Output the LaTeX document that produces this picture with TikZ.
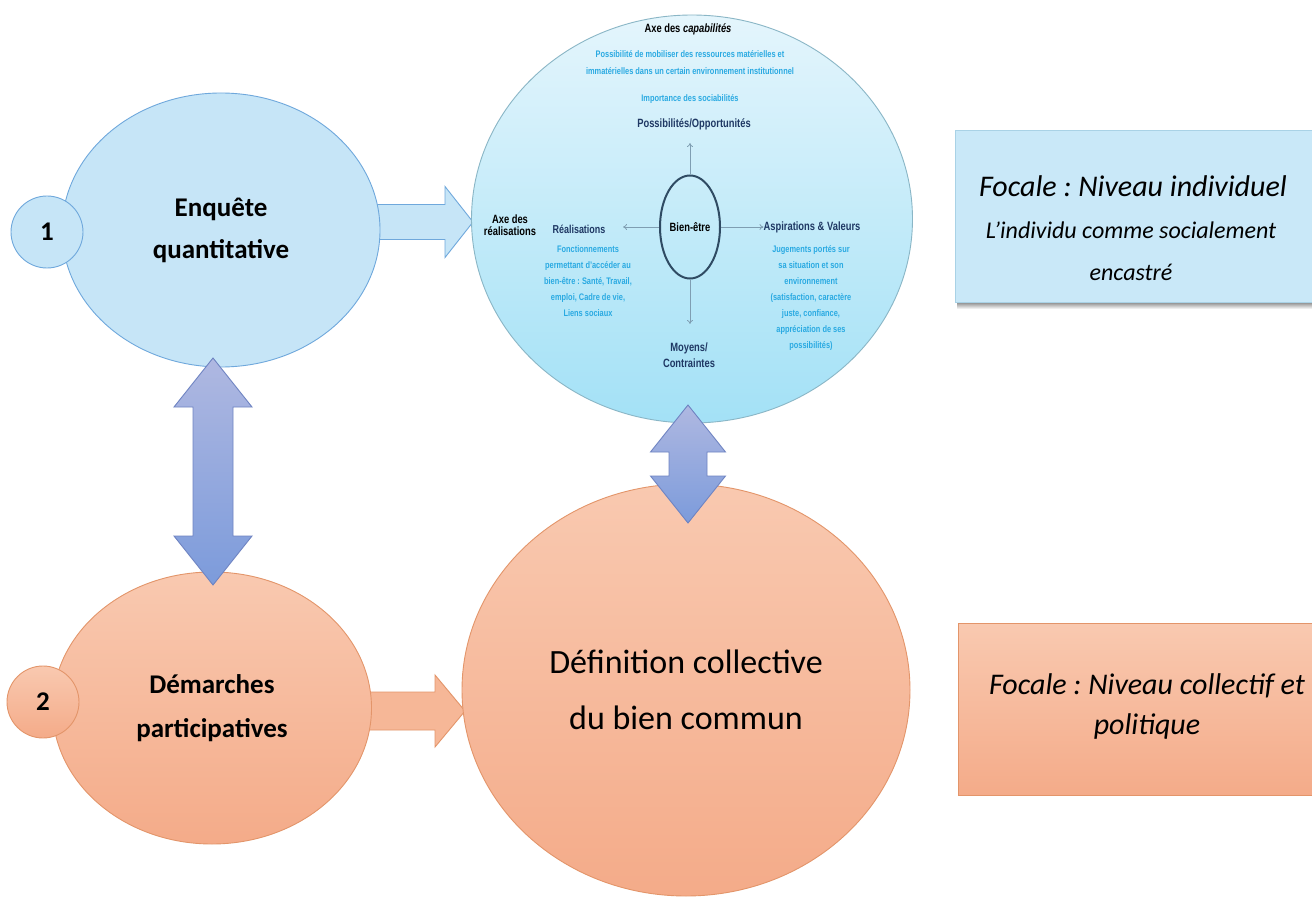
\documentclass[tikz,border=0pt]{standalone}
\usepackage{fontspec}
\setmainfont{Carlito}
\newfontfamily\narrowsans[FakeStretch=0.78]{Liberation Sans}
\usetikzlibrary{shapes.geometric,arrows.meta,calc}
\frenchspacing

\definecolor{enqfill}{HTML}{C6E5F7}
\definecolor{enqline}{HTML}{6FA8DC}
\definecolor{captop}{HTML}{E4F5FC}
\definecolor{capbot}{HTML}{A3E1F6}
\definecolor{capline}{HTML}{8AB6C6}
\definecolor{saltop}{HTML}{F9C9B0}
\definecolor{salbot}{HTML}{F4AB89}
\definecolor{salfill}{HTML}{F6B797}
\definecolor{salline}{HTML}{E3956A}
\definecolor{arrtop}{HTML}{AFB8E1}
\definecolor{arrbot}{HTML}{7C9BDB}
\definecolor{arrline}{HTML}{6F84C2}
\definecolor{navy}{HTML}{1F3864}
\definecolor{skyblue}{HTML}{2AAAE2}
\definecolor{focfill}{HTML}{C9E8F8}
\definecolor{focline}{HTML}{A9D2E6}
\definecolor{ringline}{HTML}{2F4B63}
\definecolor{smallarrow}{HTML}{7F9EB2}

% horizontal block arrow: start point, tip, half head width, half shaft width, head length, style
\newcommand\hblockarrow[6]{%
  \path[#6] let \p1=(#1), \p2=(#2) in
    (\x1,\y2+#4pt) -- (\x2-#5pt,\y2+#4pt) -- (\x2-#5pt,\y2+#3pt) -- (\x2,\y2)
    -- (\x2-#5pt,\y2-#3pt) -- (\x2-#5pt,\y2-#4pt) -- (\x1,\y2-#4pt) -- cycle;}

% vertical double block arrow: top tip, bottom tip, half head width, half shaft width, head length, style
\newcommand\vdblarrow[6]{%
  \path[#6] let \p1=(#1), \p2=(#2) in
    (\x1,\y1) -- (\x1+#3pt,\y1-#5pt) -- (\x1+#4pt,\y1-#5pt) -- (\x1+#4pt,\y2+#5pt)
    -- (\x1+#3pt,\y2+#5pt) -- (\x1,\y2) -- (\x1-#3pt,\y2+#5pt) -- (\x1-#4pt,\y2+#5pt)
    -- (\x1-#4pt,\y1-#5pt) -- (\x1-#3pt,\y1-#5pt) -- cycle;}

\begin{document}
\begin{tikzpicture}[x=1pt,y=-1pt,
  bubble/.style={ellipse, inner sep=0pt, line width=0.9pt, align=center},
  bluebubble/.style={bubble, fill=enqfill, draw=enqline},
  salbubble/.style={bubble, top color=saltop, bottom color=salbot, draw=salline},
  title/.style={font=\fontsize{27}{42}\selectfont\bfseries},
  numtag/.style={circle, inner sep=0pt, minimum size=72pt, line width=0.9pt,
                 font=\fontsize{27}{30}\selectfont\bfseries},
  axistext/.style={font=\narrowsans\bfseries\fontsize{12}{12.5}\selectfont, align=center, inner sep=0pt},
  navytext/.style={font=\narrowsans\bfseries\fontsize{12}{16}\selectfont, text=navy, align=center, inner sep=0pt},
  notetext/.style={font=\narrowsans\bfseries\fontsize{9.5}{16}\selectfont, text=skyblue, align=center, inner sep=0pt},
  thinarrow/.style={draw=smallarrow, line width=0.8pt, -{To[length=4pt,width=6pt]}},
  bluearrow/.style={fill=enqfill, draw=enqline, line width=0.9pt},
  salarrow/.style={fill=salfill, draw=salline, line width=0.9pt},
  dblarrowstyle/.style={top color=arrtop, bottom color=arrbot, draw=arrline, line width=0.9pt},
  focaltext/.style={font=\fontsize{30}{36}\selectfont\itshape, align=center, inner sep=0pt},
  subfocal/.style={font=\fontsize{24}{42}\selectfont\itshape, align=center, inner sep=0pt}
]
\useasboundingbox (0,0) rectangle (1312,901);
\fill[white] (0,0) rectangle (1312,901);
\clip (0,0) rectangle (1312,901);

% ---- horizontal block arrows (drawn first, their tails hide under the bubbles)
\coordinate (startA) at (368,222);
\coordinate (tipA) at (473,222);
\coordinate (startB) at (362,711);
\coordinate (tipB) at (465,711);
\hblockarrow{startA}{tipA}{35.5}{17.5}{28}{bluearrow}
\hblockarrow{startB}{tipB}{36}{19}{30}{salarrow}

% ---- main bubbles
\node[bluebubble, minimum width=318pt, minimum height=274pt, title] (enq) at (221,230) {Enquête\\quantitative};
\node[bubble, top color=captop, bottom color=capbot, draw=capline,
      minimum width=441pt, minimum height=408pt] (cap) at (692,219) {};
\node[salbubble, minimum width=319pt, minimum height=272pt, title,
      font=\fontsize{27}{44}\selectfont\bfseries] (dem) at (212,708) {Démarches\\participatives};
\node[salbubble, minimum width=448pt, minimum height=412pt,
      font=\fontsize{34}{56}\selectfont] (defc) at (686,690) {Définition collective\\du bien commun};

% ---- step numbers
\node[numtag, fill=enqfill, draw=enqline] (n1) at (47,232) {1};
\node[numtag, top color=saltop, bottom color=salbot, draw=salline] (n2) at (43,702) {2};

% ---- double arrows
\coordinate (dA1) at (213,358);
\coordinate (dA2) at (213,585);
\coordinate (dB1) at (688,405);
\coordinate (dB2) at (688,523);
\vdblarrow{dA1}{dA2}{39}{20}{49}{dblarrowstyle}
\vdblarrow{dB1}{dB2}{37.5}{19}{47}{dblarrowstyle}

% ---- capabilities diagram inside the large circle
\node[axistext] (axcap) at (688,29) {Axe des \textit{capabilités}};
\node[notetext, font=\narrowsans\bfseries\fontsize{9.5}{17}\selectfont] (note1) at (690,63)
  {Possibilité de mobiliser des ressources matérielles et\\immatérielles dans un certain environnement institutionnel};
\node[notetext] (note2) at (690,99) {Importance des sociabilités};
\node[navytext] (poss) at (694,124) {Possibilités/Opportunités};

\node[ellipse, draw=ringline, line width=2pt, inner sep=0pt, minimum width=60pt, minimum height=103pt,
      font=\narrowsans\bfseries\fontsize{12}{14}\selectfont] (be) at (690,227) {Bien-être};

\node[navytext, font=\narrowsans\bfseries\fontsize{11.5}{16}\selectfont] (real) at (579,229) {Réalisations};
\node[notetext] (realnote) at (588,281)
  {Fonctionnements\\permettant d’accéder au\\bien-être : Santé, Travail,\\emploi, Cadre de vie,\\Liens sociaux};
\node[axistext] (axreal) at (510,225) {Axe des\\réalisations};

\node[navytext] (asp) at (812,227) {Aspirations \& Valeurs};
\node[notetext] (aspnote) at (811,298)
  {Jugements portés sur\\sa situation et son\\environnement\\(satisfaction, caractère\\juste, confiance,\\appréciation de ses\\possibilités)};

\node[navytext] (moy) at (689,355) {Moyens/\\Contraintes};

\coordinate (upend) at (690,143);
\coordinate (leftend) at (623,227);
\coordinate (downend) at (690,324);
\draw[thinarrow] (be.north) -- (upend);
\draw[thinarrow] (be.west) -- (leftend);
\draw[thinarrow] (be.east) -- (asp.west);
\draw[thinarrow] (be.south) -- (downend);

% ---- focal boxes on the right
\shade[top color=black!60, bottom color=white] (957,300) rectangle (1312,309);
\node[anchor=north west, fill=focfill, draw=focline, line width=0.6pt, inner sep=0pt,
      minimum width=380pt, minimum height=172pt] (focA) at (955,130) {};
\node[focaltext] (focAt) at (1133,186) {Focale : Niveau individuel};
\node[subfocal] (focAs) at (1131,251) {L’individu comme socialement\\encastré};

\node[anchor=north west, top color=saltop, bottom color=salbot, draw=salline, line width=0.9pt,
      inner sep=0pt, minimum width=380pt, minimum height=172pt] (focB) at (958,623) {};
\node[focaltext, font=\fontsize{30}{40}\selectfont\itshape] (focBt) at (1147,706) {Focale : Niveau collectif et\\politique};
\end{tikzpicture}
\end{document}
